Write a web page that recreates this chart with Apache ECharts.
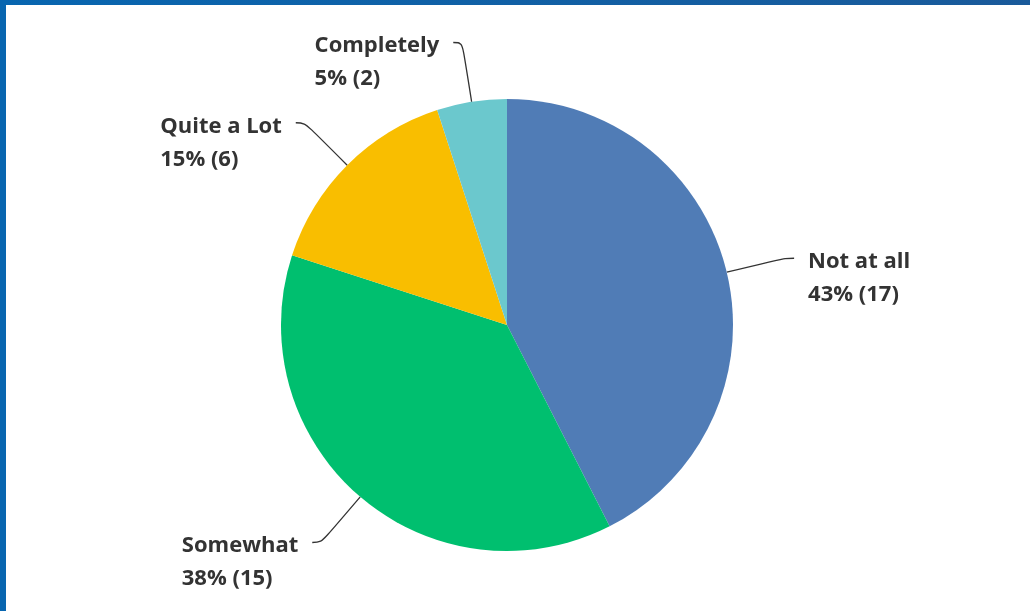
<!DOCTYPE html>
<html>
<head>
<meta charset="utf-8">
<script src="https://cdn.jsdelivr.net/npm/echarts@6/dist/echarts.min.js"></script>
<style>
  html, body { margin: 0; padding: 0; background: #ffffff; }
  #chart { position: absolute; left: 0; top: 0; width: 1030px; height: 611px; }
  #bt { position: absolute; left: 0; top: 0; width: 1030px; height: 5px; background: linear-gradient(to right, #0866b0, #1a5a9a); }
  #bl { position: absolute; left: 0; top: 0; width: 6px; height: 611px; background: #0866b0; }
</style>
</head>
<body>
<div id="chart"></div>
<div id="bt"></div>
<div id="bl"></div>
<script>
const categories = ['Not at all', 'Somewhat', 'Quite a Lot', 'Completely'];
const counts = [17, 15, 6, 2];
const colors = ['#507cb6', '#00bf6f', '#f9be00', '#6bc8cd'];

const chart = echarts.init(document.getElementById('chart'));
chart.setOption({
  animation: false,
  series: [{
    type: 'pie',
    center: [507, 325],
    radius: 226,
    startAngle: 90,
    clockwise: true,
    avoidLabelOverlap: false,
    itemStyle: { borderWidth: 0 },
    label: {
      show: true,
      position: 'outside',
      distanceToLabelLine: 14,
      color: '#333333',
      fontFamily: 'Open Sans',
      fontWeight: 700,
      fontSize: 22,
      lineHeight: 33,
      formatter: function (p) {
        return '{s| }\n{t|' + p.name + '}\n{t|' + Math.round(p.percent) + '% (' + p.value + ')}';
      },
      rich: {
        s: { align: 'left', lineHeight: 40, fontSize: 20 },
        t: { align: 'left', color: '#333333', fontFamily: 'Open Sans', fontWeight: 700, fontSize: 22, lineHeight: 33 }
      }
    },
    labelLine: {
      show: true,
      length: 60,
      length2: 9,
      smooth: 0.4,
      lineStyle: { color: '#333333', width: 1.3 }
    },
    data: categories.map((c, i) => ({ name: c, value: counts[i], itemStyle: { color: colors[i] } }))
  }]
});
</script>
</body>
</html>
